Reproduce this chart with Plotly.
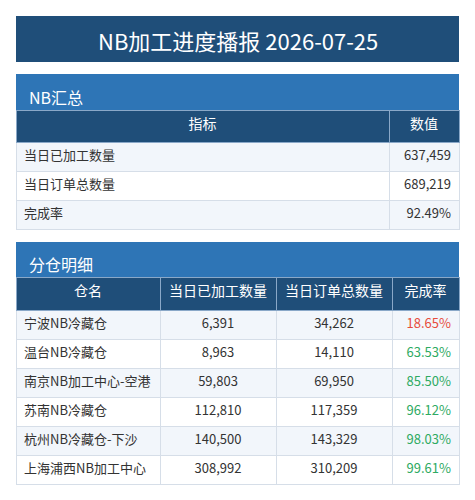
import plotly.graph_objects as go

# 汇总数据
title = 'NB加工进度播报 2026-07-25'
sum_labels = ['当日已加工数量', '当日订单总数量', '完成率']
sum_values = ['637,459', '689,219', '92.49%']

# 分仓数据
wh_names = ['宁波NB冷藏仓', '温台NB冷藏仓', '南京NB加工中心-空港', '苏南NB冷藏仓',
            '杭州NB冷藏仓-下沙', '上海浦西NB加工中心']
wh_done = [6391, 8963, 59803, 112810, 140500, 308992]
wh_total = [34262, 14110, 69950, 117359, 143329, 310209]
wh_rate = [18.65, 63.53, 85.50, 96.12, 98.03, 99.61]

W, H = 475, 500
OFF = 8  # page body margin
dark = '#1f4e79'
mid = '#2e75b6'
line = '#d6dee8'
font = 'Noto Sans CJK SC'

def py(pix):
    return 1 - (pix - OFF) / H

def px(pix):
    return (pix - OFF) / W

x0, x1 = px(16), px(459)

rows_fill1 = [['#f2f6fb', 'white', '#f2f6fb']]
rows_fill2 = [['#f2f6fb' if i % 2 == 0 else 'white' for i in range(len(wh_names))]]
rate_colors = ['#e74c3c' if r < 50 else '#2eaa62' for r in wh_rate]

fig = go.Figure()

fig.add_trace(go.Table(
    domain=dict(x=[x0, x1], y=[py(232), py(110)]),
    columnwidth=[373, 70],
    header=dict(values=['指标', '数值'], fill_color=dark, line_color='#8aa8c8',
                font=dict(color='white', size=14, family=font), height=32, align='center'),
    cells=dict(values=[sum_labels, sum_values], fill_color=rows_fill1 * 2, line_color=line,
               font=dict(color='#333333', size=13, family=font), height=29,
               align=['left', 'right']),
))

fig.add_trace(go.Table(
    domain=dict(x=[x0, x1], y=[py(486), py(277)]),
    columnwidth=[144, 116, 116, 67],
    header=dict(values=['仓名', '当日已加工数量', '当日订单总数量', '完成率'], fill_color=dark,
                line_color='#8aa8c8', font=dict(color='white', size=14, family=font),
                height=33, align='center'),
    cells=dict(values=[wh_names, [f'{v:,}' for v in wh_done], [f'{v:,}' for v in wh_total],
                       [f'{r:.2f}%' for r in wh_rate]],
               fill_color=rows_fill2 * 4, line_color=line,
               font=dict(color=[['#333333'] * 6] * 3 + [rate_colors], size=13, family=font),
               height=29, align=['left', 'center', 'center', 'right']),
))

shapes = [
    dict(type='rect', xref='paper', yref='paper', x0=x0, x1=x1, y0=py(62), y1=py(16),
         fillcolor=dark, line_width=0, layer='below'),
    dict(type='rect', xref='paper', yref='paper', x0=x0, x1=x1, y0=py(110), y1=py(74),
         fillcolor=mid, line_width=0, layer='below'),
    dict(type='rect', xref='paper', yref='paper', x0=x0, x1=x1, y0=py(277), y1=py(242),
         fillcolor=mid, line_width=0, layer='below'),
]
annotations = [
    dict(text=title, x=(x0 + x1) / 2, y=py(40), xref='paper', yref='paper', showarrow=False,
         yanchor='middle', font=dict(color='white', size=22, family=font)),
    dict(text='NB汇总', x=px(27), y=py(97), xref='paper', yref='paper', showarrow=False,
         xanchor='left', yanchor='middle', font=dict(color='white', size=16, family=font)),
    dict(text='分仓明细', x=px(27), y=py(264), xref='paper', yref='paper', showarrow=False,
         xanchor='left', yanchor='middle', font=dict(color='white', size=16, family=font)),
]

fig.update_layout(width=W, height=H, margin=dict(l=0, r=0, t=0, b=0),
                  paper_bgcolor='white', shapes=shapes, annotations=annotations)

fig.write_html('out.html')
